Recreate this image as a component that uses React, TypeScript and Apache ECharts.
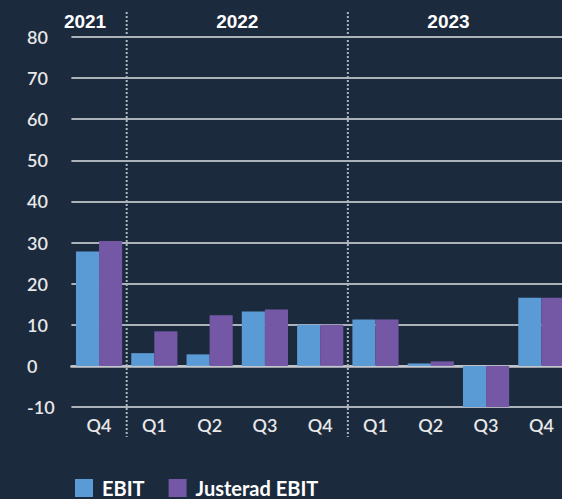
import React, { useEffect, useRef } from "react";
import * as echarts from "echarts";

const quarters = ["Q4", "Q1", "Q2", "Q3", "Q4", "Q1", "Q2", "Q3", "Q4"];
const years = ["2021", "2022", "2023"];
const ebit = [27.8, 3.1, 2.8, 13.2, 10.0, 11.3, 0.6, -10.0, 16.6];
const justeradEbit = [30.4, 8.4, 12.3, 13.7, 10.0, 11.3, 1.1, -10.0, 16.6];
const seriesNames = ["EBIT", "Justerad EBIT"];

const BG = "#1c2a3e";
const BLUE = "#5b9bd5";
const PURPLE = "#7458a6";

export default function App() {
  const ref = useRef<HTMLDivElement>(null);
  useEffect(() => {
    if (!ref.current) return;
    const chart = echarts.init(ref.current, null, { renderer: "svg" });
    chart.setOption({
      animation: false,
      backgroundColor: BG,
      grid: { left: 71.4, right: 0, top: 37, bottom: 92 },
      legend: {
        left: 75,
        top: 478,
        padding: 0,
        itemWidth: 18,
        itemHeight: 18,
        itemGap: 24,
        icon: "rect",
        textStyle: { color: "#ffffff", fontFamily: "Lato", fontWeight: "bold", fontSize: 20, lineHeight: 18, padding: [0, 0, 0, 4] },
        data: seriesNames,
      },
      xAxis: {
        type: "category",
        data: quarters,
        axisLine: { onZero: true, lineStyle: { color: "#c4c7cc", width: 2.5 } },
        axisTick: { show: false },
        axisLabel: { color: "#e8e8e8", fontFamily: "Lato", fontWeight: 600, fontSize: 18, margin: 9 },
      },
      yAxis: {
        type: "value",
        min: -10,
        max: 80,
        interval: 10,
        axisLine: { show: false },
        axisTick: { show: false },
        splitLine: { lineStyle: { color: "#dde0e4", width: 1.5 } },
        axisLabel: { color: "#e8e8e8", fontFamily: "Lato", fontWeight: 600, fontSize: 18, align: "left", margin: 44.4 },
      },
      series: [
        { name: seriesNames[0], type: "bar", data: ebit, itemStyle: { color: BLUE }, barGap: "0%", barCategoryGap: "16.5%" },
        { name: seriesNames[1], type: "bar", data: justeradEbit, itemStyle: { color: PURPLE } },
      ],
    });
    const px = (i: number) => chart.convertToPixel({ xAxisIndex: 0 }, i) as number;
    const sep1 = (px(0) + px(1)) / 2;
    const sep2 = (px(4) + px(5)) / 2;
    const lineStyle = { stroke: "#aeb4bc", lineWidth: 2, lineDash: [2, 2] };
    const yearStyle = (text: string) => ({
      text,
      fill: "#ffffff",
      font: "bold 19px 'Liberation Sans'",
      textAlign: "center",
      textVerticalAlign: "middle",
    });
    chart.setOption({
      graphic: [
        { type: "line", shape: { x1: sep1, y1: 12, x2: sep1, y2: 437 }, style: lineStyle, z: 10 },
        { type: "line", shape: { x1: sep2, y1: 12, x2: sep2, y2: 437 }, style: lineStyle, z: 10 },
        { type: "text", x: px(0) - 14, y: 21, style: yearStyle(years[0]), z: 10 },
        { type: "text", x: (px(2) + px(3)) / 2, y: 21, style: yearStyle(years[1]), z: 10 },
        { type: "text", x: px(5) + 73, y: 21, style: yearStyle(years[2]), z: 10 },
      ],
    });
    return () => chart.dispose();
  }, []);
  return (
    <div style={{ position: "fixed", left: 0, top: 0, width: 562, height: 499, overflow: "hidden" }}>
      <div ref={ref} style={{ position: "absolute", left: 0, top: 0, width: 569, height: 499 }} />
    </div>
  );
}
